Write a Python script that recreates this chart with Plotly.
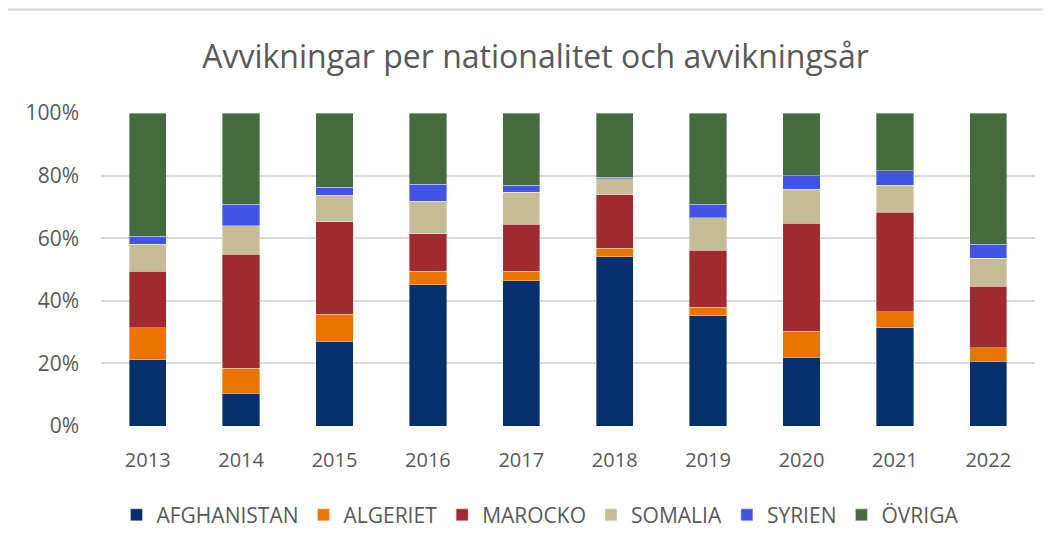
import plotly.graph_objects as go

years = ["2013", "2014", "2015", "2016", "2017", "2018", "2019", "2020", "2021", "2022"]

afghanistan = [21.1, 10.4, 27.1, 45.1, 46.4, 54.2, 35.3, 22.0, 31.4, 20.7]
algeriet = [10.3, 8.1, 8.6, 4.3, 3.0, 2.6, 2.6, 8.2, 5.1, 4.3]
marocko = [18.0, 36.3, 29.5, 12.0, 15.0, 17.1, 18.3, 34.6, 31.7, 19.7]
somalia = [8.6, 9.1, 8.5, 10.3, 10.2, 5.1, 10.3, 10.8, 8.6, 9.0]
syrien = [2.6, 6.8, 2.6, 5.5, 2.2, 0.5, 4.3, 4.3, 4.7, 4.4]
ovriga = [39.4, 29.2, 23.7, 22.7, 23.1, 20.6, 29.2, 20.1, 18.4, 42.0]

series = [
    ("AFGHANISTAN", afghanistan, "#06306C"),
    ("ALGERIET", algeriet, "#E97500"),
    ("MAROCKO", marocko, "#A02A30"),
    ("SOMALIA", somalia, "#C5BD98"),
    ("SYRIEN", syrien, "#4353E4"),
    ("ÖVRIGA", ovriga, "#466B3E"),
]

FONT = "Open Sans, Lato, sans-serif"
GREY = "#595959"

fig = go.Figure()
for name, vals, color in series:
    fig.add_trace(go.Bar(
        x=years, y=vals, name=name,
        marker=dict(color=color, line=dict(color="rgba(255,255,255,0.6)", width=0.6)),
    ))

fig.update_layout(
    barmode="stack",
    barnorm="percent",
    bargap=0.6,
    width=1051, height=549,
    margin=dict(l=93, r=24, t=105, b=131, autoexpand=False),
    paper_bgcolor="white",
    plot_bgcolor="white",
    font=dict(family=FONT, color=GREY, size=20),
    title=dict(
        text="Avvikningar per nationalitet och avvikningsår",
        x=0.502, xanchor="center", y=0.9107, yanchor="middle",
        font=dict(family=FONT, size=32, color=GREY),
    ),
    xaxis=dict(
        showgrid=False, showline=False, zeroline=False,
        tickfont=dict(size=20, color=GREY),
        ticklabelstandoff=20,
    ),
    yaxis=dict(
        range=[0, 100],
        tickvals=[0, 20, 40, 60, 80, 100],
        ticktext=["0%", "20%", "40%", "60%", "80%", "100%"],
        showgrid=True, gridcolor="#D9D9D9", gridwidth=1.5,
        zeroline=False, showline=False,
        tickfont=dict(size=21, color=GREY),
        ticklabelstandoff=21,
    ),
    legend=dict(
        orientation="h",
        x=0.47, xanchor="center",
        y=-0.285, yanchor="middle",
        font=dict(size=21, color=GREY),
        traceorder="normal",
    ),
    showlegend=True,
    shapes=[
        dict(type="line", xref="paper", yref="paper",
             x0=-0.1006, x1=1.04, y0=1.3304, y1=1.3304,
             line=dict(color="#D9D9D9", width=2)),
        dict(type="line", xref="paper", yref="paper",
             x0=-0.1006, x1=-0.1006, y0=1.3304, y1=-0.42,
             line=dict(color="#D9D9D9", width=2)),
    ],
)

fig.write_html("out.html")
